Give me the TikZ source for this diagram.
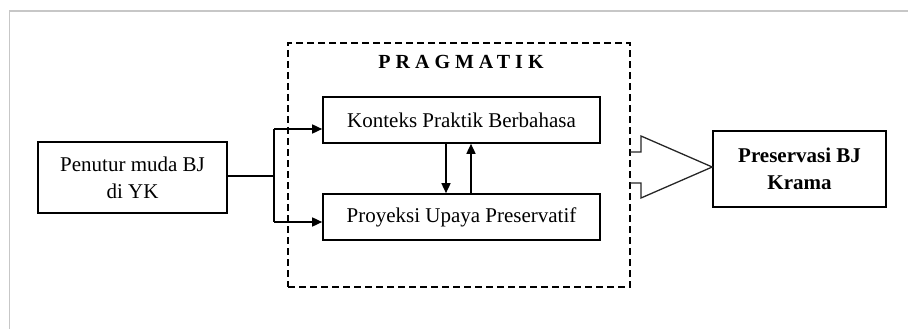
\documentclass[tikz,border=0pt]{standalone}
\usepackage{fontspec}
\setmainfont{Liberation Serif}
\usetikzlibrary{arrows.meta}
\begin{document}
\begin{tikzpicture}[x=1pt,y=-1pt,
  boxnode/.style={draw=black, line width=1.6pt, inner sep=0pt, align=center,
    font=\fontsize{21}{27}\selectfont},
  arr/.style={line width=1.5pt, -{Triangle[length=10pt,width=9pt]}},
  conn/.style={line width=1.5pt}]
\useasboundingbox (0,0) rectangle (908,329);
\draw[black!22, line width=1.6pt] (9.5,329) -- (9.5,11) -- (908,11);

\node[draw=black, dash pattern=on 7pt off 4pt, line width=1.3pt, minimum width=342pt, minimum height=244pt, inner sep=0pt] (D) at (459,165) {};
\node[font=\fontsize{20}{24}\selectfont\bfseries\addfontfeature{LetterSpace=25}] (P) at (461,62) {PRAGMATIK};

\node[boxnode, minimum width=189pt, minimum height=71pt] (L) at (132.5,177.5) {Penutur muda BJ\\di YK};
\node[boxnode, minimum width=277pt, minimum height=46pt] (T) at (461.5,120) {Konteks Praktik Berbahasa};
\node[boxnode, minimum width=277pt, minimum height=46pt] (B) at (461.5,217) {Proyeksi Upaya Preservatif};
\node[boxnode, minimum width=173pt, minimum height=76pt, font=\fontsize{21}{27}\selectfont\bfseries] (R) at (799.5,169) {Preservasi BJ\\Krama};

\coordinate (j) at (274,176);
\coordinate (jt) at (274,129);
\coordinate (jb) at (274,222);
\draw[conn] (L.east |- j) -- (j);
\draw[conn] (jt) -- (jb);
\draw[arr] (jt) -- (T.west |- jt);
\draw[arr] (jb) -- (B.west |- jb);

\draw[arr] ([xshift=-15.5pt]T.south) -- ([xshift=-15.5pt]B.north);
\draw[arr] ([xshift=9.5pt]B.north) -- ([xshift=9.5pt]T.south);

\draw[line width=1.3pt, black!85, line join=miter]
  (630,152) -- (641,152) -- (641,136) -- (R.west |- 0,167) -- (641,198) -- (641,183) -- (630,183);
\end{tikzpicture}
\end{document}
